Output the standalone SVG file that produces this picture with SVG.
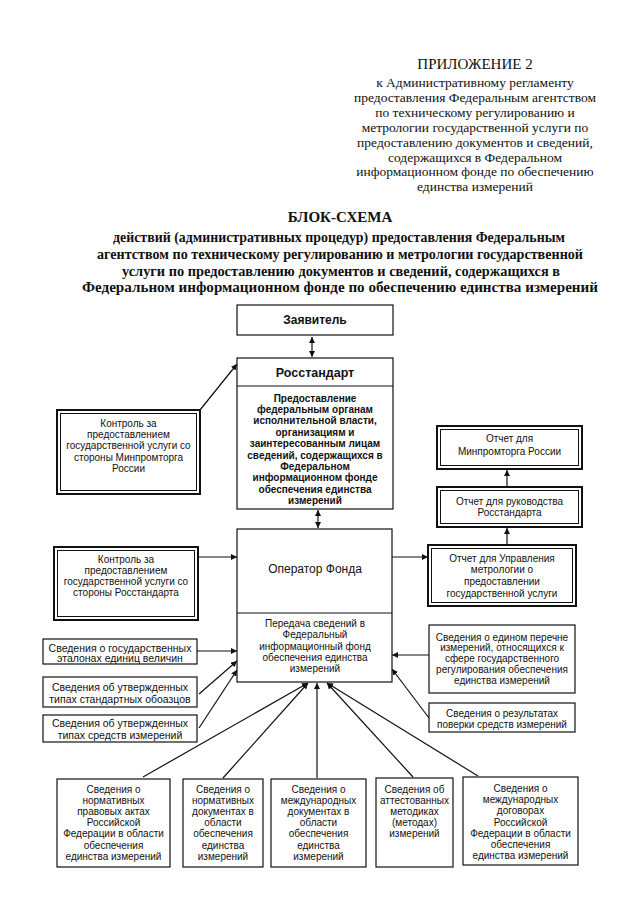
<svg xmlns="http://www.w3.org/2000/svg" width="640" height="905" viewBox="0 0 640 905">
<defs>
<marker id="ah" viewBox="0 0 10 10" refX="10" refY="5" markerWidth="6" markerHeight="6" orient="auto-start-reverse" markerUnits="userSpaceOnUse">
<path d="M0,0 L10,5 L0,10 z" fill="#111"/>
</marker>
<style>
.hd{font-family:"Liberation Serif","Times New Roman",serif;font-size:13.5px;fill:#111;text-anchor:middle}
.hb{font-family:"Liberation Serif","Times New Roman",serif;font-size:14.6px;font-weight:bold;fill:#111;text-anchor:middle}
.t{font-family:"Liberation Sans",Arial,sans-serif;font-size:10px;fill:#111;text-anchor:middle}
.tb{font-family:"Liberation Sans",Arial,sans-serif;font-size:10px;font-weight:bold;fill:#111;text-anchor:middle}
.tl{font-family:"Liberation Sans",Arial,sans-serif;font-size:10.5px;fill:#111;text-anchor:middle}
.big{font-family:"Liberation Sans",Arial,sans-serif;font-size:12px;fill:#111;text-anchor:middle}
.bigb{font-family:"Liberation Sans",Arial,sans-serif;font-size:12px;font-weight:bold;fill:#111;text-anchor:middle}
.box{fill:#fff;stroke:#111;stroke-width:1.2}
.dbl{fill:#fff;stroke:#111;stroke-width:2}
.inn{fill:none;stroke:#111;stroke-width:1}
.ln{fill:none;stroke:#111;stroke-width:1.2}
.c{fill:none;stroke:#111;stroke-width:1.2;marker-end:url(#ah)}
.c2{fill:none;stroke:#111;stroke-width:1.2;marker-end:url(#ah);marker-start:url(#ah)}
</style>
</defs>
<rect width="640" height="905" fill="#fff"/>

<g id="header">
<text x="475" y="69" class="hd" style="font-size:15px">ПРИЛОЖЕНИЕ 2</text>
<text x="475" y="87" class="hd">к Административному регламенту</text>
<text x="475" y="101.5" class="hd">предоставления Федеральным агентством</text>
<text x="475" y="116.5" class="hd">по техническому регулированию и</text>
<text x="475" y="131.5" class="hd">метрологии государственной услуги по</text>
<text x="475" y="146.5" class="hd">предоставлению документов и сведений,</text>
<text x="475" y="161.5" class="hd">содержащихся в Федеральном</text>
<text x="475" y="176" class="hd">информационном фонде по обеспечению</text>
<text x="475" y="190.5" class="hd">единства измерений</text>
</g>

<g id="title">
<text x="340" y="222" class="hb" style="font-size:15px">БЛОК-СХЕМА</text>
<text x="339" y="242" class="hb" textLength="452" lengthAdjust="spacingAndGlyphs">действий (административных процедур) предоставления Федеральным</text>
<text x="340" y="258.5" class="hb" textLength="486" lengthAdjust="spacingAndGlyphs">агентством по техническому регулированию и метрологии государственной</text>
<text x="341" y="275.5" class="hb" textLength="438" lengthAdjust="spacingAndGlyphs">услуги по предоставлению документов и сведений, содержащихся в</text>
<text x="340" y="292" class="hb" textLength="516" lengthAdjust="spacingAndGlyphs">Федеральном информационном фонде по обеспечению единства измерений</text>
</g>

<g id="connectors">
<line x1="312" y1="337" x2="312" y2="357" class="c2"/>
<line x1="318" y1="510" x2="318" y2="528" class="c2"/>
<line x1="200" y1="410" x2="237" y2="364" class="c"/>
<line x1="198" y1="557" x2="237" y2="557" class="c"/>
<line x1="392" y1="557" x2="428" y2="557" class="c"/>
<line x1="507" y1="545" x2="507" y2="528" class="c"/>
<line x1="507" y1="486" x2="507" y2="470" class="c"/>
<line x1="197" y1="651" x2="237" y2="651" class="c"/>
<line x1="199" y1="694" x2="237" y2="661" class="c"/>
<line x1="199" y1="728" x2="237" y2="670" class="c"/>
<line x1="429" y1="655" x2="392" y2="655" class="c"/>
<line x1="429" y1="718" x2="392" y2="669" class="c"/>
<line x1="143" y1="777" x2="308" y2="683" class="c"/>
<line x1="223" y1="778" x2="308" y2="683" class="c"/>
<line x1="317" y1="778" x2="317" y2="683" class="c"/>
<line x1="413" y1="777" x2="327" y2="683" class="c"/>
<line x1="478" y1="776" x2="327" y2="683" class="c"/>
</g>

<g id="zayavitel">
<rect x="237" y="305" width="156" height="30" class="box"/>
<text x="315" y="324" class="bigb">Заявитель</text>
</g>

<g id="rosstandart">
<rect x="237" y="358" width="156" height="151" class="box"/>
<line x1="237" y1="386" x2="393" y2="386" class="ln"/>
<text x="315" y="376.5" class="bigb" style="font-size:12.5px">Росстандарт</text>
<text x="315" y="401.5" class="tb">Предоставление</text>
<text x="315" y="412.9" class="tb">федеральным органам</text>
<text x="315" y="424.3" class="tb">исполнительной власти,</text>
<text x="315" y="435.7" class="tb">организациям и</text>
<text x="315" y="447.1" class="tb">заинтересованным лицам</text>
<text x="315" y="458.5" class="tb">сведений, содержащихся в</text>
<text x="315" y="469.9" class="tb">Федеральном</text>
<text x="315" y="481.3" class="tb">информационном фонде</text>
<text x="315" y="492.7" class="tb">обеспечения единства</text>
<text x="315" y="504.1" class="tb">измерений</text>
</g>

<g id="operator">
<rect x="237" y="529" width="155" height="153" class="box"/>
<line x1="237" y1="613" x2="392" y2="613" class="ln"/>
<text x="315" y="573" class="big">Оператор Фонда</text>
<text x="315" y="627" class="t">Передача сведений в</text>
<text x="315" y="638" class="t">Федеральный</text>
<text x="315" y="649.5" class="t">информационный фонд</text>
<text x="315" y="660.5" class="t">обеспечения единства</text>
<text x="315" y="671.5" class="t">измерений</text>
</g>

<g id="kontrol-minprom">
<rect x="57" y="410" width="143" height="84" class="dbl"/>
<rect x="60.5" y="413.5" width="136" height="77" class="inn"/>
<text x="128.5" y="427" class="t">Контроль за</text>
<text x="128.5" y="438.2" class="t">предоставлением</text>
<text x="128.5" y="449.4" class="t">государственной услуги со</text>
<text x="128.5" y="460.6" class="t">стороны Минпромторга</text>
<text x="128.5" y="471.8" class="t">России</text>
</g>

<g id="kontrol-rosst">
<rect x="54" y="547" width="144" height="73" class="dbl"/>
<rect x="57.5" y="550.5" width="137" height="66" class="inn"/>
<text x="126" y="562.5" class="t">Контроль за</text>
<text x="126" y="573.8" class="t">предоставлением</text>
<text x="126" y="585.1" class="t">государственной услуги со</text>
<text x="126" y="596.4" class="t">стороны Росстандарта</text>
</g>

<g id="etalony">
<rect x="43" y="639" width="154" height="25" class="box"/>
<text x="120" y="651.5" class="tl">Сведения о государственных</text>
<text x="120" y="662" class="tl">эталонах единиц величин</text>
</g>

<g id="standart-obr">
<rect x="43" y="677" width="154" height="30" class="box"/>
<text x="120" y="690.5" class="tl">Сведения об утвержденных</text>
<text x="120" y="703" class="tl">типах стандартных обоазцов</text>
</g>

<g id="sredstva">
<rect x="43" y="715" width="154" height="27" class="box"/>
<text x="120" y="726.5" class="tl">Сведения об утвержденных</text>
<text x="120" y="738.5" class="tl">типах средств измерений</text>
</g>

<g id="otchet-minprom">
<rect x="437" y="426" width="145" height="43" class="dbl"/>
<rect x="440.5" y="429.5" width="138" height="36" class="inn"/>
<text x="509.5" y="441.5" class="t">Отчет для</text>
<text x="509.5" y="454.5" class="t">Минпромторга  России</text>
</g>

<g id="otchet-ruk">
<rect x="437" y="487" width="145" height="40" class="dbl"/>
<rect x="440.5" y="490.5" width="138" height="33" class="inn"/>
<text x="509.5" y="504.5" class="t">Отчет для руководства</text>
<text x="509.5" y="516" class="t">Росстандарта</text>
</g>

<g id="otchet-upr">
<rect x="428" y="545" width="148" height="61" class="dbl"/>
<rect x="431.5" y="548.5" width="141" height="54" class="inn"/>
<text x="502" y="561.5" class="t">Отчет для Управления</text>
<text x="502" y="573.2" class="t">метрологии о</text>
<text x="502" y="584.9" class="t">предоставлении</text>
<text x="502" y="596.6" class="t">государственной услуги</text>
</g>

<g id="perechen">
<rect x="429" y="625" width="146" height="68" class="box"/>
<text x="502" y="640.5" class="t">Сведения о едином перечне</text>
<text x="502" y="651.4" class="t">измерений, относящихся к</text>
<text x="502" y="662.3" class="t">сфере государственного</text>
<text x="502" y="673.2" class="t">регулирования обеспечения</text>
<text x="502" y="684.1" class="t">единства измерений</text>
</g>

<g id="poverka">
<rect x="429" y="703" width="146" height="29" class="box"/>
<text x="502" y="716.5" class="t">Сведения о результатах</text>
<text x="502" y="727.5" class="t">поверки средств измерений</text>
</g>

<g id="npa">
<rect x="57" y="779" width="113" height="88" class="box"/>
<text x="113.5" y="792.5" class="t">Сведения о</text>
<text x="113.5" y="803.7" class="t">нормативных</text>
<text x="113.5" y="814.9" class="t">правовых актах</text>
<text x="113.5" y="826.1" class="t">Российской</text>
<text x="113.5" y="837.3" class="t">Федерации в области</text>
<text x="113.5" y="848.5" class="t">обеспечения</text>
<text x="113.5" y="859.7" class="t">единства измерений</text>
</g>

<g id="norm-doc">
<rect x="183" y="779" width="80" height="88" class="box"/>
<text x="223" y="792.5" class="t">Сведения о</text>
<text x="223" y="803.7" class="t">нормативных</text>
<text x="223" y="814.9" class="t">документах в</text>
<text x="223" y="826.1" class="t">области</text>
<text x="223" y="837.3" class="t">обеспечения</text>
<text x="223" y="848.5" class="t">единства</text>
<text x="223" y="859.7" class="t">измерений</text>
</g>

<g id="mezhd-doc">
<rect x="271" y="779" width="95" height="88" class="box"/>
<text x="318.5" y="792.5" class="t">Сведения о</text>
<text x="318.5" y="803.7" class="t">международных</text>
<text x="318.5" y="814.9" class="t">документах в</text>
<text x="318.5" y="826.1" class="t">области</text>
<text x="318.5" y="837.3" class="t">обеспечения</text>
<text x="318.5" y="848.5" class="t">единства</text>
<text x="318.5" y="859.7" class="t">измерений</text>
</g>

<g id="metodiki">
<rect x="376" y="778" width="77" height="89" class="box"/>
<text x="414.5" y="792.5" class="t">Сведения об</text>
<text x="414.5" y="803.7" class="t">аттестованных</text>
<text x="414.5" y="814.9" class="t">методиках</text>
<text x="414.5" y="826.1" class="t">(методах)</text>
<text x="414.5" y="837.3" class="t">измерений</text>
</g>

<g id="dogovory">
<rect x="463" y="777" width="115" height="88" class="box"/>
<text x="520.5" y="792" class="t">Сведения о</text>
<text x="520.5" y="803.2" class="t">международных</text>
<text x="520.5" y="814.4" class="t">договорах</text>
<text x="520.5" y="825.6" class="t">Российской</text>
<text x="520.5" y="836.8" class="t">Федерации в области</text>
<text x="520.5" y="848" class="t">обеспечения</text>
<text x="520.5" y="859.2" class="t">единства измерений</text>
</g>
</svg>
